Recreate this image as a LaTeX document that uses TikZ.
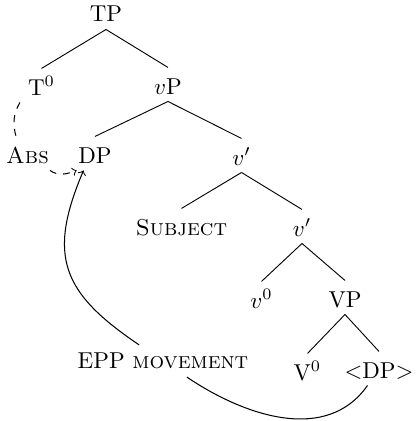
\documentclass[tikz,border=0pt]{standalone}
\begin{document}
\begin{tikzpicture}[x=0.435pt,y=-0.435pt,
  tn/.style={anchor=base,text height=8.3pt,text depth=0pt,inner ysep=3.05pt},
  lbl/.style={inner sep=3.333pt},
  br/.style={line width=0.4pt},
  mv/.style={->,line width=0.45pt}]
\useasboundingbox (0,0) rectangle (415,421);
% tree nodes (positions = baselines)
\node[tn] (tp)  at (106,22)   {TP};
\node[tn] (t0)  at (41.5,95)  {T$^0$};
\node[tn] (vp)  at (168,94)   {$v$P};
\node[tn] (abs) at (27.5,163) {\textsc{Abs}};
\node[tn] (dp)  at (95,163)   {DP};
\node[tn] (vb1) at (241.5,165){$v'$};
\node[tn] (subj) at (181.5,235){\textsc{Subject}};
\node[tn] (vb2) at (302,236)  {$v'$};
\node[tn] (v0)  at (261.5,308){$v^0$};
\node[tn] (vpp) at (345,307)  {VP};
\node[tn] (vv0) at (307.5,380){V$^0$};
\node[tn] (dp2) at (379,378)  {$<$DP$>$};
\node[lbl] (epp) at (163,361) {EPP \textsc{movement}};
% branches
\draw[br] (tp.south) -- (t0.north);
\draw[br] (tp.south) -- (vp.north);
\draw[br] (vp.south) -- (dp.north);
\draw[br] (vp.south) -- (vb1.north);
\draw[br] (vb1.south) -- (subj.north);
\draw[br] (vb1.south) -- (vb2.north);
\draw[br] (vb2.south) -- (v0.north);
\draw[br] (vb2.south) -- (vpp.north);
\draw[br] (vpp.south) -- (vv0.north);
\draw[br] (vpp.south) -- (dp2.north);
% dashed agreement
\draw[dashed,line width=0.45pt] (t0.south west) to[out=-120,in=105] ([xshift=-5pt]abs.north);
\draw[dashed,->,line width=0.45pt] ([xshift=-3pt]abs.south east) to[out=-35,in=-160] ([xshift=-8pt]dp.south);
% movement
\draw[line width=0.45pt] ([xshift=-5pt]dp2.south) to[out=-125,in=-34] (epp);
\draw[mv] (epp) to[out=146,in=-113,looseness=1.3] ([xshift=-5pt]dp.south);
\end{tikzpicture}
\end{document}
